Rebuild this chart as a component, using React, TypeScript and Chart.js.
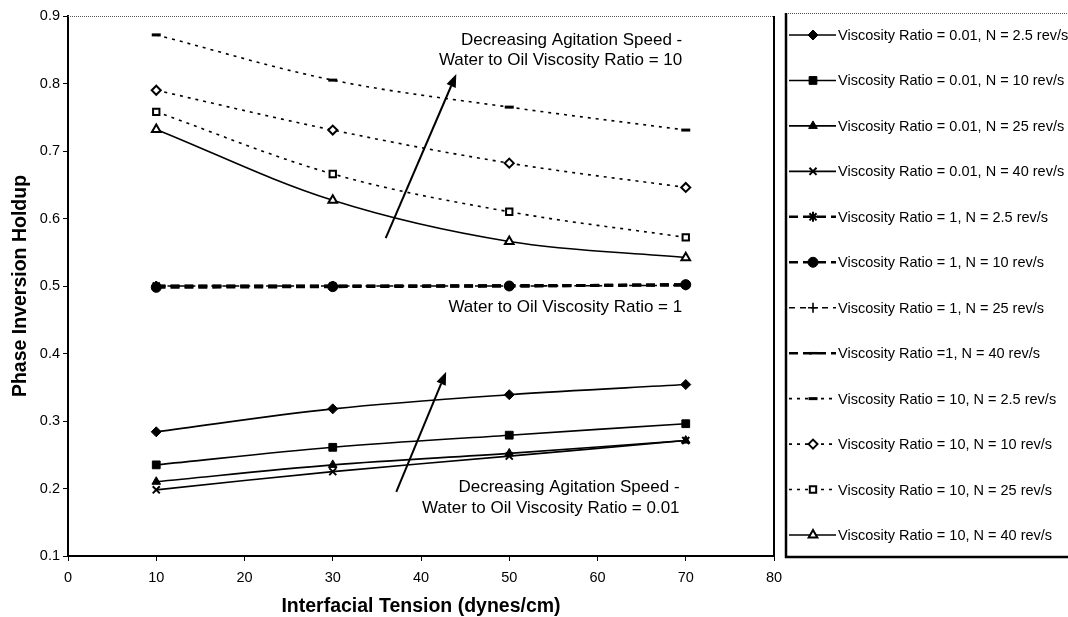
import React, { useEffect, useRef } from "react";
import { Chart, registerables } from "chart.js";
import { drawPoint } from "chart.js/helpers";

Chart.register(...registerables);

// ---------- data ----------
const tensionValues = [10, 30, 50, 70];

const seriesLabels = [
  "Viscosity Ratio = 0.01, N = 2.5 rev/s",
  "Viscosity Ratio = 0.01, N = 10 rev/s",
  "Viscosity Ratio = 0.01, N = 25 rev/s",
  "Viscosity Ratio = 0.01, N = 40 rev/s",
  "Viscosity Ratio = 1, N = 2.5 rev/s",
  "Viscosity Ratio = 1, N = 10 rev/s",
  "Viscosity Ratio = 1, N = 25 rev/s",
  "Viscosity Ratio =1, N = 40 rev/s",
  "Viscosity Ratio = 10, N = 2.5 rev/s",
  "Viscosity Ratio = 10, N = 10 rev/s",
  "Viscosity Ratio = 10, N = 25 rev/s",
  "Viscosity Ratio = 10, N = 40 rev/s",
];

const ratio001_n2_5 = [0.284, 0.318, 0.339, 0.354];
const ratio001_n10 = [0.235, 0.261, 0.279, 0.296];
const ratio001_n25 = [0.21, 0.235, 0.252, 0.271];
const ratio001_n40 = [0.198, 0.225, 0.248, 0.271];

const ratio1_n2_5 = [0.5, 0.5, 0.5, 0.502];
const ratio1_n10 = [0.498, 0.499, 0.5, 0.502];
const ratio1_n25 = [0.5, 0.5, 0.5, 0.501];
const ratio1_n40 = [0.5, 0.5, 0.501, 0.501];

const ratio10_n2_5 = [0.872, 0.805, 0.765, 0.731];
const ratio10_n10 = [0.79, 0.731, 0.682, 0.646];
const ratio10_n25 = [0.758, 0.666, 0.61, 0.572];
const ratio10_n40 = [0.732, 0.627, 0.566, 0.542];

const xTickValues = [0, 10, 20, 30, 40, 50, 60, 70, 80];
const yTickValues = [0.1, 0.2, 0.3, 0.4, 0.5, 0.6, 0.7, 0.8, 0.9];

const xAxisTitle = "Interfacial Tension (dynes/cm)";
const yAxisTitle = "Phase Inversion Holdup";

// annotation arrows (data units): from -> to
const arrowStarts = [
  [36.0, 0.571],
  [37.2, 0.195],
];
const arrowEnds = [
  [44.0, 0.814],
  [42.85, 0.373],
];

// annotation notes (right aligned, baseline at given data point)
const noteTexts = [
  "Decreasing Agitation Speed -",
  "Water to Oil Viscosity Ratio = 10",
  "Water to Oil Viscosity Ratio = 1",
  "Decreasing Agitation Speed -",
  "Water to Oil Viscosity Ratio = 0.01",
];
const noteX = [69.6, 69.6, 69.6, 69.3, 69.3];
const noteY = [0.857, 0.827, 0.4615, 0.195, 0.1637];

// ---------- styles ----------
const FONT = '"Liberation Sans", Arial, Helvetica, sans-serif';
const SOLID: number[] = [];
const DASHED = [9, 5];
const DOTTED = [3, 5];

type Style = {
  dash: number[];
  width: number;
  pointStyle: string;
  radius: number;
  fill: string;
  pbw: number;
};

const seriesStyles: Style[] = [
  { dash: SOLID, width: 1.6, pointStyle: "rectRot", radius: 5, fill: "#000", pbw: 1 },
  { dash: SOLID, width: 1.6, pointStyle: "rect", radius: 5.5, fill: "#000", pbw: 1 },
  { dash: SOLID, width: 1.6, pointStyle: "triangle", radius: 5, fill: "#000", pbw: 1 },
  { dash: SOLID, width: 1.6, pointStyle: "crossRot", radius: 5, fill: "#000", pbw: 2 },
  { dash: DASHED, width: 3, pointStyle: "star", radius: 5, fill: "#000", pbw: 2 },
  { dash: DASHED, width: 3, pointStyle: "circle", radius: 5, fill: "#000", pbw: 1 },
  { dash: [6, 5], width: 1.6, pointStyle: "cross", radius: 5, fill: "#000", pbw: 1.6 },
  { dash: DASHED, width: 2.4, pointStyle: "line", radius: 4, fill: "#000", pbw: 2.5 },
  { dash: DOTTED, width: 1.6, pointStyle: "line", radius: 4.5, fill: "#000", pbw: 3 },
  { dash: DOTTED, width: 1.6, pointStyle: "rectRot", radius: 4.5, fill: "#fff", pbw: 2 },
  { dash: DOTTED, width: 1.6, pointStyle: "rect", radius: 4.5, fill: "#fff", pbw: 2 },
  { dash: SOLID, width: 1.6, pointStyle: "triangle", radius: 5, fill: "#fff", pbw: 2 },
];

const seriesValues = [
  ratio001_n2_5,
  ratio001_n10,
  ratio001_n25,
  ratio001_n40,
  ratio1_n2_5,
  ratio1_n10,
  ratio1_n25,
  ratio1_n40,
  ratio10_n2_5,
  ratio10_n10,
  ratio10_n25,
  ratio10_n40,
];

// ---------- plugins ----------
const framePlugin = {
  id: "frame",
  beforeDatasetsDraw(chart: any) {
    const { ctx, chartArea } = chart;
    ctx.save();
    ctx.strokeStyle = "#555";
    ctx.lineWidth = 1;
    ctx.setLineDash([1, 1]);
    ctx.beginPath();
    ctx.moveTo(chartArea.left, chartArea.top + 0.5);
    ctx.lineTo(chartArea.right, chartArea.top + 0.5);
    ctx.stroke();
    ctx.setLineDash([]);
    ctx.strokeStyle = "#000";
    ctx.lineWidth = 2;
    ctx.beginPath();
    ctx.moveTo(chartArea.right, chartArea.top);
    ctx.lineTo(chartArea.right, chartArea.bottom);
    ctx.stroke();
    ctx.restore();
  },
};

const annotationPlugin = {
  id: "notes",
  afterDatasetsDraw(chart: any) {
    const { ctx } = chart;
    const xs = chart.scales.x;
    const ys = chart.scales.y;
    ctx.save();
    ctx.strokeStyle = "#000";
    ctx.fillStyle = "#000";
    ctx.lineWidth = 2;
    for (let i = 0; i < arrowStarts.length; i++) {
      const x0 = xs.getPixelForValue(arrowStarts[i][0]);
      const y0 = ys.getPixelForValue(arrowStarts[i][1]);
      const x1 = xs.getPixelForValue(arrowEnds[i][0]);
      const y1 = ys.getPixelForValue(arrowEnds[i][1]);
      const ang = Math.atan2(y1 - y0, x1 - x0);
      const headLen = 13;
      const headW = 5;
      const bx = x1 - Math.cos(ang) * headLen;
      const by = y1 - Math.sin(ang) * headLen;
      ctx.beginPath();
      ctx.moveTo(x0, y0);
      ctx.lineTo(bx, by);
      ctx.stroke();
      ctx.beginPath();
      ctx.moveTo(x1, y1);
      ctx.lineTo(bx + Math.sin(ang) * headW, by - Math.cos(ang) * headW);
      ctx.lineTo(bx - Math.sin(ang) * headW, by + Math.cos(ang) * headW);
      ctx.closePath();
      ctx.fill();
    }
    ctx.font = `17px ${FONT}`;
    ctx.textAlign = "right";
    ctx.textBaseline = "alphabetic";
    for (let i = 0; i < noteTexts.length; i++) {
      ctx.fillText(noteTexts[i], xs.getPixelForValue(noteX[i]), ys.getPixelForValue(noteY[i]));
    }
    ctx.restore();
  },
};

const legendPlugin = {
  id: "sideLegend",
  afterDraw(chart: any) {
    const { ctx } = chart;
    const boxLeft = 786;
    const boxTop = 13;
    const boxBottom = 557;
    const boxRight = 1072;
    ctx.save();
    ctx.strokeStyle = "#555";
    ctx.lineWidth = 1;
    ctx.setLineDash([1, 1]);
    ctx.beginPath();
    ctx.moveTo(boxLeft, boxTop + 0.5);
    ctx.lineTo(boxRight, boxTop + 0.5);
    ctx.stroke();
    ctx.setLineDash([]);
    ctx.strokeStyle = "#000";
    ctx.lineWidth = 2.5;
    ctx.beginPath();
    ctx.moveTo(boxLeft, boxTop);
    ctx.lineTo(boxLeft, boxBottom);
    ctx.lineTo(boxRight, boxBottom);
    ctx.stroke();

    const items = chart.data.datasets;
    const firstY = 35;
    const step = (535 - 35) / (items.length - 1);
    for (let i = 0; i < items.length; i++) {
      const ds = items[i];
      const yy = firstY + i * step;
      ctx.strokeStyle = "#000";
      ctx.lineWidth = Math.min(ds.borderWidth, 2.4);
      ctx.setLineDash(ds.borderDash || []);
      ctx.beginPath();
      ctx.moveTo(789, yy);
      ctx.lineTo(836, yy);
      ctx.stroke();
      ctx.setLineDash([]);
      ctx.fillStyle = ds.pointBackgroundColor;
      ctx.strokeStyle = "#000";
      ctx.lineWidth = ds.pointBorderWidth;
      drawPoint(
        ctx,
        {
          pointStyle: ds.pointStyle,
          radius: ds.pointRadius,
          rotation: 0,
          borderWidth: ds.pointBorderWidth,
        } as any,
        813,
        yy
      );
      ctx.fillStyle = "#000";
      ctx.font = `14.5px ${FONT}`;
      ctx.textAlign = "left";
      ctx.textBaseline = "middle";
      ctx.fillText(ds.label, 838, yy + 1);
    }
    ctx.restore();
  },
};

export default function App() {
  const canvasRef = useRef<HTMLCanvasElement | null>(null);

  useEffect(() => {
    const canvas = canvasRef.current;
    if (!canvas) return;

    const datasets = seriesValues.map((vals, i) => {
      const s = seriesStyles[i];
      return {
        label: seriesLabels[i],
        data: vals.map((v, j) => ({ x: tensionValues[j], y: v })),
        borderColor: "#000",
        backgroundColor: "#000",
        borderWidth: s.width,
        borderDash: s.dash,
        tension: 0.35,
        fill: false,
        pointStyle: s.pointStyle,
        pointRadius: s.radius,
        pointBackgroundColor: s.fill,
        pointBorderColor: "#000",
        pointBorderWidth: s.pbw,
        pointHoverRadius: s.radius,
        clip: false,
      };
    });

    const chart = new Chart(canvas, {
      type: "line",
      data: { datasets: datasets as any },
      options: {
        animation: false,
        responsive: false,
        devicePixelRatio: 1,
        events: [],
        layout: { padding: { top: 16, right: 294, left: 0, bottom: 0 } },
        plugins: {
          legend: { display: false },
          tooltip: { enabled: false },
        },
        scales: {
          x: {
            type: "linear",
            min: 0,
            max: 80,
            afterFit: (scale: any) => {
              scale.height = 61;
            },
            afterBuildTicks: (scale: any) => {
              scale.ticks = xTickValues.map((v) => ({ value: v }));
            },
            ticks: {
              color: "#000",
              font: { family: FONT, size: 14.5 },
              padding: 8,
              maxRotation: 0,
            },
            grid: {
              display: true,
              drawOnChartArea: false,
              drawTicks: true,
              tickLength: 5,
              color: "#000",
            },
            border: { display: true, color: "#000", width: 2 },
            title: {
              display: true,
              text: xAxisTitle,
              color: "#000",
              font: { family: FONT, size: 19.5, weight: "bold", lineHeight: 1.1 },
              padding: { top: 0, bottom: 0 },
            },
          },
          y: {
            type: "linear",
            min: 0.1,
            max: 0.9,
            afterFit: (scale: any) => {
              scale.width = 68;
            },
            afterBuildTicks: (scale: any) => {
              scale.ticks = yTickValues.map((v) => ({ value: v }));
            },
            ticks: {
              color: "#000",
              font: { family: FONT, size: 14.5 },
              padding: 3,
              callback: (v: any) => Number(v).toFixed(1),
            },
            grid: {
              display: true,
              drawOnChartArea: false,
              drawTicks: true,
              tickLength: 5,
              color: "#000",
            },
            border: { display: true, color: "#000", width: 2 },
            title: {
              display: true,
              text: yAxisTitle,
              color: "#000",
              font: { family: FONT, size: 19.5, weight: "bold" },
              padding: { top: 9, bottom: 0 },
            },
          },
        },
      },
      plugins: [framePlugin, annotationPlugin, legendPlugin],
    });

    return () => {
      chart.destroy();
    };
  }, []);

  return (
    <div style={{ position: "fixed", left: 0, top: 0, width: 1068, height: 617, background: "#fff" }}>
      <canvas ref={canvasRef} width={1068} height={617} style={{ display: "block", width: 1068, height: 617 }} />
    </div>
  );
}
